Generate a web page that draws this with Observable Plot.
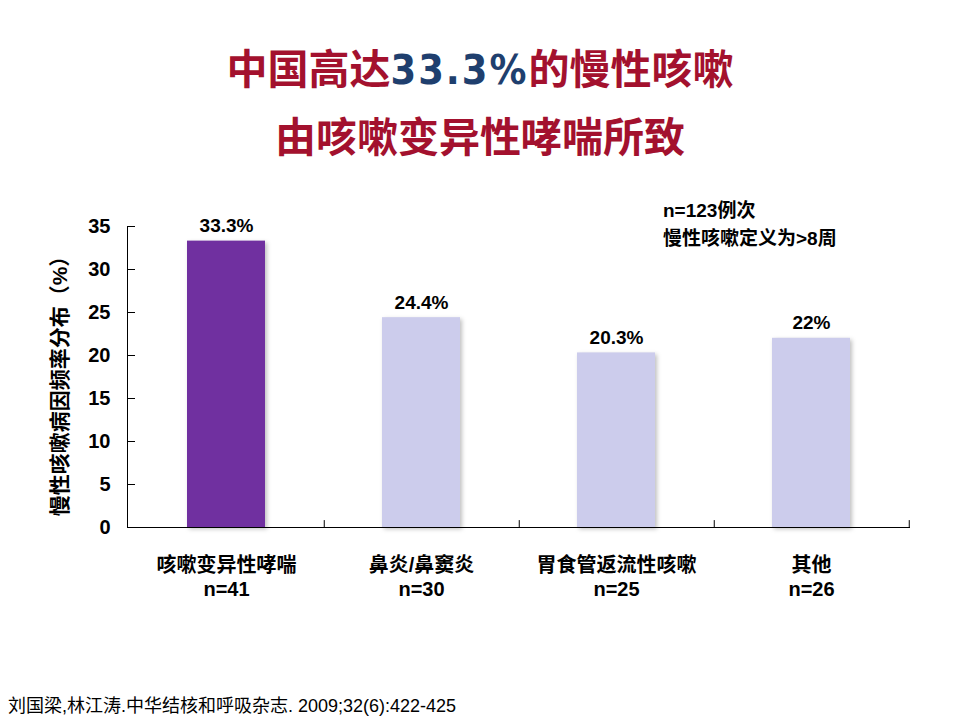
<!DOCTYPE html>
<html><head><meta charset="utf-8">
<script src="https://cdn.jsdelivr.net/npm/d3@7"></script>
<script src="https://cdn.jsdelivr.net/npm/@observablehq/plot@0.6"></script>
<style>
body{margin:0;background:#fff;width:960px;height:720px;position:relative;overflow:hidden;font-family:"Liberation Sans","Noto Sans CJK SC",sans-serif;}
.t{position:absolute;left:0;width:960px;text-align:center;font-family:"Noto Sans CJK SC",sans-serif;font-weight:bold;font-size:41px;color:#a3112e;line-height:1;white-space:nowrap;}
.t .num{color:#1f3f6e;font-family:"Liberation Sans Narrow","DejaVu Sans Condensed","Liberation Sans",sans-serif;font-weight:bold;letter-spacing:2px;}
#t1{top:46px;}
#t2{top:114px;}
#chart{position:absolute;left:0;top:190px;}
#note{position:absolute;left:663px;top:197px;font-weight:bold;font-size:19px;line-height:28px;color:#000;font-family:"Liberation Sans","Noto Sans CJK SC",sans-serif;}
#foot{position:absolute;left:8px;top:691px;font-size:18px;color:#000;font-family:"Liberation Sans","Noto Sans CJK SC",sans-serif;}
#chart g[aria-label="bar"] rect{filter:drop-shadow(2px 2px 2px rgba(0,0,0,0.25));}
</style>
</head><body>
<div class="t" id="t1">中国高达<span class="num">33.3%</span>的慢性咳嗽</div>
<div class="t" id="t2">由咳嗽变异性哮喘所致</div>
<div id="note">n=123例次<br>慢性咳嗽定义为&gt;8周</div>
<div id="chart"></div>
<div id="foot">刘国梁,林江涛.中华结核和呼吸杂志. 2009;32(6):422-425</div>
<script>
const categories = ["咳嗽变异性哮喘", "鼻炎/鼻窦炎", "胃食管返流性咳嗽", "其他"];
const values = [33.3, 24.4, 20.3, 22];
const counts = [41, 30, 25, 26];
const valueLabels = ["33.3%", "24.4%", "20.3%", "22%"];
const colors = ["#7030a0", "#ccccec", "#ccccec", "#ccccec"];
const yTicks = [0, 5, 10, 15, 20, 25, 30, 35];
const yLabel = "慢性咳嗽病因频率分布（%）";

const data = categories.map((c, i) => ({cat: c, value: values[i], n: counts[i], label: valueLabels[i], color: colors[i]}));

const W = 960, ML = 127, MR = 51;
const step = (W - ML - MR) / categories.length;

const chart = Plot.plot({
  width: W, height: 420,
  marginTop: 36, marginBottom: 83, marginLeft: ML, marginRight: MR,
  x: {domain: categories, paddingInner: 0.6, paddingOuter: 0.3, axis: null},
  y: {domain: [0, 35], axis: null},
  style: {fontFamily: '"Liberation Sans","Noto Sans CJK SC",sans-serif', color: "#000", background: "transparent", overflow: "visible"},
  marks: [
    Plot.barY(data, {x: "cat", y: "value", fill: "color"}),
    Plot.axisY({ticks: yTicks, tickSize: -8, tickPadding: 25, fontSize: 20, fontWeight: "bold", label: null}),
    Plot.text([yLabel], {frameAnchor: "left", textAnchor: "middle", rotate: -90, dx: -67, dy: 4, fontSize: 21, fontWeight: "bold"}),
    Plot.frame({anchor: "left", stroke: "#000"}),
    Plot.frame({anchor: "bottom", stroke: "#000"}),
    Plot.ruleX(data, {x: "cat", y1: 0, y2: 0.8, dx: step / 2, stroke: "#000"}),
    Plot.text(data, {x: "cat", y: "value", text: "label", dy: -15, fontSize: 19, fontWeight: "bold"}),
    Plot.text(data, {x: "cat", y: 0, text: d => d.cat + "\nn=" + d.n, dy: 49, lineHeight: 1.2, fontSize: 20, fontWeight: "bold"})
  ]
});
document.getElementById("chart").appendChild(chart);
</script>
</body></html>
